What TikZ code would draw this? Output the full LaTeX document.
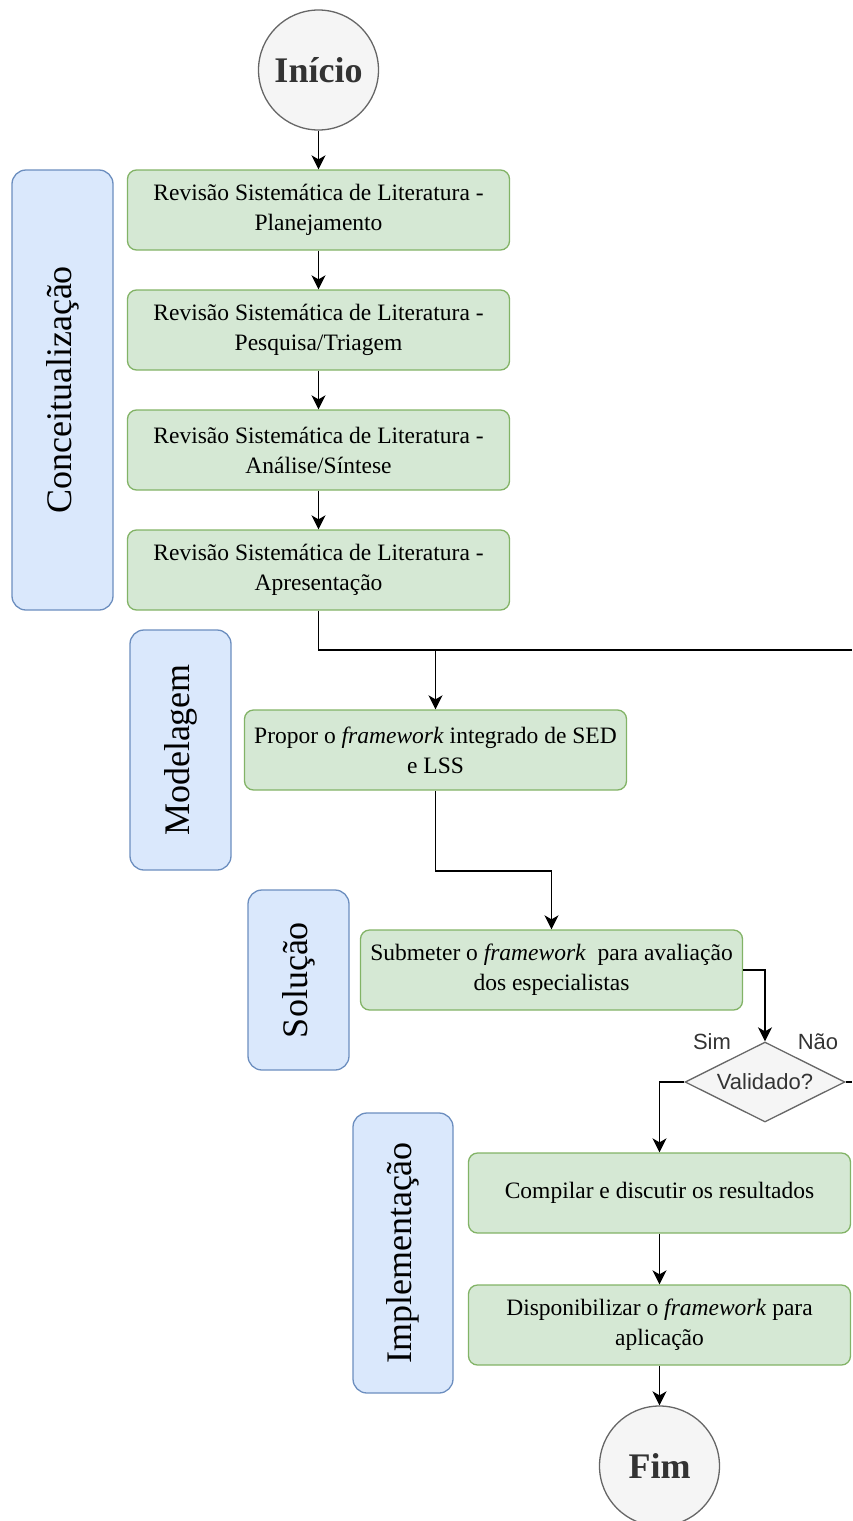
\documentclass[tikz,border=0pt]{standalone}
\usepackage{fontspec}
\setmainfont{Liberation Serif}
\newfontfamily\sansf{Liberation Sans}
\usetikzlibrary{arrows.meta,shapes.geometric}
\definecolor{gfill}{HTML}{D5E8D4}
\definecolor{gline}{HTML}{82B366}
\definecolor{bfill}{HTML}{DAE8FC}
\definecolor{bline}{HTML}{6C8EBF}
\definecolor{cfill}{HTML}{F5F5F5}
\definecolor{cline}{HTML}{666666}
\definecolor{ctext}{HTML}{333333}
\tikzset{
  stepbox/.style={draw=gline, fill=gfill, rounded corners=9pt, minimum width=382pt, minimum height=80pt,
    align=center, inner sep=0pt, line width=1.3pt, font=\fontsize{23.5}{30}\selectfont},
  phasebox/.style={draw=bline, fill=bfill, rounded corners=14pt, rotate=90, inner sep=0pt,
    line width=1.3pt, minimum height=101pt, font=\fontsize{36}{40}\selectfont},
  termnode/.style={circle, draw=cline, fill=cfill, minimum size=120pt, inner sep=0pt, line width=1.3pt,
    text=ctext, font=\fontsize{36}{40}\selectfont\bfseries},
  decision/.style={diamond, draw=cline, fill=cfill, aspect=2, minimum width=160pt, minimum height=80pt,
    inner sep=0pt, line width=1.3pt, text=ctext, font=\sansf\fontsize{22}{26}\selectfont},
  lbl/.style={text=ctext, font=\sansf\fontsize{22}{26}\selectfont, inner sep=0pt},
  conn/.style={line width=1.8pt, -{Stealth[length=14pt,width=14pt,inset=4pt]}},
  plain/.style={line width=1.8pt}
}
\begin{document}
\begin{tikzpicture}[x=1pt,y=-1pt]
\useasboundingbox (0,0) rectangle (852,1521);
% phase boxes
\node[phasebox, minimum width=440pt] (ph1) at (62.5,390) {Conceitualização};
\node[phasebox, minimum width=240pt] (ph2) at (180.5,750) {Modelagem};
\node[phasebox, minimum width=180pt] (ph3) at (298.5,980) {Solução};
\node[phasebox, minimum width=280pt, minimum height=100pt] (ph4) at (403,1253) {Implementação};
% terminals
\node[termnode] (ini) at (318.5,70) {Início};
\node[termnode] (fim) at (659.5,1466) {Fim};
% steps
\node[stepbox] (s1) at (318.5,210) {Revisão Sistemática de Literatura -\\Planejamento};
\node[stepbox] (s2) at (318.5,330) {Revisão Sistemática de Literatura -\\Pesquisa/Triagem};
\node[stepbox] (s3) at (318.5,450) {Revisão Sistemática de Literatura -\\Análise/Síntese};
\node[stepbox] (s4) at (318.5,570) {Revisão Sistemática de Literatura -\\Apresentação};
\node[stepbox] (prop) at (435.5,750) {Propor o \textit{framework} integrado de SED\\e LSS};
\node[stepbox] (sub) at (551.5,970) {Submeter o \textit{framework}\ \ para avaliação\\dos especialistas};
\node[decision] (dia) at (765,1082) {Validado?};
\node[stepbox] (comp) at (659.5,1193) {Compilar e discutir os resultados};
\node[stepbox] (disp) at (659.5,1325) {Disponibilizar o \textit{framework} para\\aplicação};
\node[lbl] (sim) at (712,1042) {Sim};
\node[lbl] (nao) at (818,1042) {Não};
% coordinates
\coordinate (j) at (435.5,650);
\coordinate (r1) at (852,650);
\coordinate (r2) at (852,1082);
% connectors
\draw[conn] (ini.south) -- (s1.north);
\draw[conn] (s1.south) -- (s2.north);
\draw[conn] (s2.south) -- (s3.north);
\draw[conn] (s3.south) -- (s4.north);
\draw[conn] (s4.south) |- (j) -- (prop.north);
\draw[plain] (r1) -- (j);
\draw[conn] (prop.south) -- ++(0,80) -| (sub.north);
\draw[conn] (sub.east) -| (dia.north);
\draw[plain] (dia.east) -- (r2);
\draw[conn] (dia.west) -| (comp.north);
\draw[conn] (comp.south) -- (disp.north);
\draw[conn] (disp.south) -- (fim.north);
\end{tikzpicture}
\end{document}
